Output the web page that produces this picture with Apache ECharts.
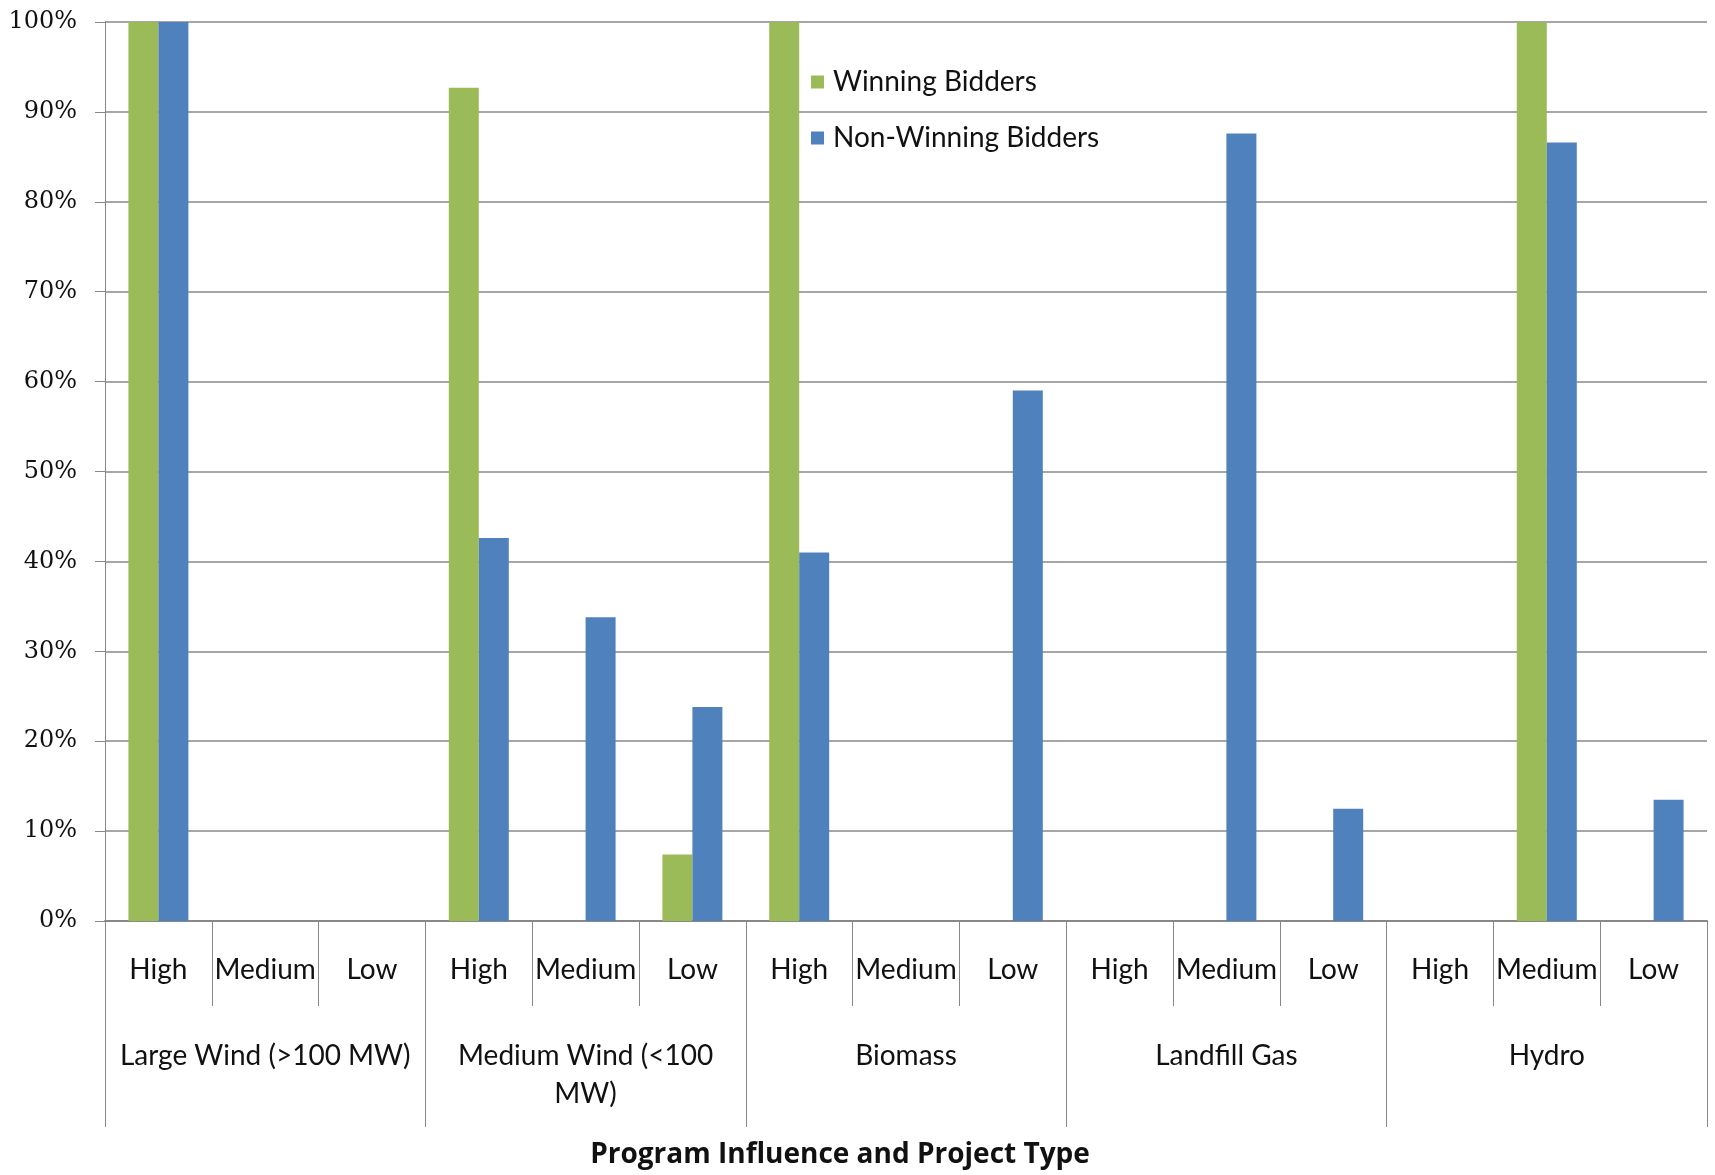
<!DOCTYPE html>
<html>
<head>
<meta charset="utf-8">
<script src="https://cdn.jsdelivr.net/npm/echarts@6/dist/echarts.min.js"></script>
<style>
  html, body { margin: 0; padding: 0; background: #ffffff; }
  #chart { width: 1715px; height: 1175px; }
</style>
</head>
<body>
<div id="chart"></div>
<script>
// Project types (outer axis level) and program-influence levels (inner level)
const projectTypes = ['Large Wind (>100 MW)', 'Medium Wind (<100\nMW)', 'Biomass', 'Landfill Gas', 'Hydro'];
const influenceLevels = ['High', 'Medium', 'Low'];

// Share of respondents (%) per project type x influence level
const winningBidders    = [100, 0, 0,   92.7, 0, 7.4,    100, 0, 0,     0, 0, 0,      0, 100, 0];
const nonWinningBidders = [100, 0, 0,   42.6, 33.8, 23.8, 41.0, 0, 59.0, 0, 87.6, 12.5, 0, 86.6, 13.5];

const yTicks = { min: 0, max: 100, step: 10 };

const categories = projectTypes.flatMap(() => influenceLevels);

const GRID_GRAY = '#888888';
const LABEL_FONT = 'Lato';
const LABEL_SIZE = 28;

const chart = echarts.init(document.getElementById('chart'), null, { renderer: 'canvas' });

chart.setOption({
  backgroundColor: '#ffffff',
  animation: false,
  grid: { left: 105, right: 8, top: 22, bottom: 254, containLabel: false },
  legend: {
    orient: 'vertical',
    left: 811,
    top: 67,
    padding: 0,
    itemWidth: 13,
    itemHeight: 13,
    itemGap: 26,
    icon: 'rect',
    textStyle: {
      fontFamily: LABEL_FONT,
      fontSize: LABEL_SIZE,
      color: '#111',
      lineHeight: 30,
      padding: [0, 0, 0, 4]
    },
    data: ['Winning Bidders', 'Non-Winning Bidders']
  },
  xAxis: [
    {
      type: 'category',
      data: categories,
      position: 'bottom',
      axisLine: { show: true, lineStyle: { color: GRID_GRAY, width: 2 } },
      axisTick: { show: true, interval: 0, length: 85, lineStyle: { color: GRID_GRAY, width: 1 } },
      axisLabel: {
        interval: 0,
        margin: 31,
        fontFamily: LABEL_FONT,
        fontSize: LABEL_SIZE,
        lineHeight: 36,
        color: '#111'
      },
      splitLine: { show: false }
    },
    {
      type: 'category',
      data: projectTypes,
      position: 'bottom',
      offset: 0,
      axisLine: { show: false },
      axisTick: { show: true, interval: 0, length: 206, lineStyle: { color: GRID_GRAY, width: 1 } },
      axisLabel: {
        interval: 0,
        margin: 116,
        fontFamily: LABEL_FONT,
        fontSize: LABEL_SIZE,
        lineHeight: 38,
        color: '#111'
      },
      splitLine: { show: false }
    }
  ],
  yAxis: {
    type: 'value',
    min: yTicks.min,
    max: yTicks.max,
    interval: yTicks.step,
    axisLine: { show: true, lineStyle: { color: GRID_GRAY, width: 1 } },
    axisTick: { show: true, length: 10, lineStyle: { color: GRID_GRAY } },
    axisLabel: {
      formatter: '{value}%',
      margin: 28,
      fontFamily: 'DejaVu Serif',
      fontSize: 24,
      color: '#111'
    },
    splitLine: { show: true, lineStyle: { color: GRID_GRAY, width: 1.5 } }
  },
  graphic: [
    {
      type: 'text',
      x: 840,
      y: 1155,
      style: {
        text: 'Program Influence and Project Type',
        align: 'center',
        verticalAlign: 'middle',
        fontFamily: 'Open Sans',
        fontWeight: 'bold',
        fontSize: 28,
        fill: '#111'
      }
    }
  ],
  series: [
    {
      name: 'Winning Bidders',
      type: 'bar',
      xAxisIndex: 0,
      data: winningBidders,
      barWidth: 30,
      barGap: '0%',
      itemStyle: { color: '#9bbb59' }
    },
    {
      name: 'Non-Winning Bidders',
      type: 'bar',
      xAxisIndex: 0,
      data: nonWinningBidders,
      barWidth: 30,
      barGap: '0%',
      itemStyle: { color: '#4f81bd' }
    }
  ]
});
</script>
</body>
</html>
